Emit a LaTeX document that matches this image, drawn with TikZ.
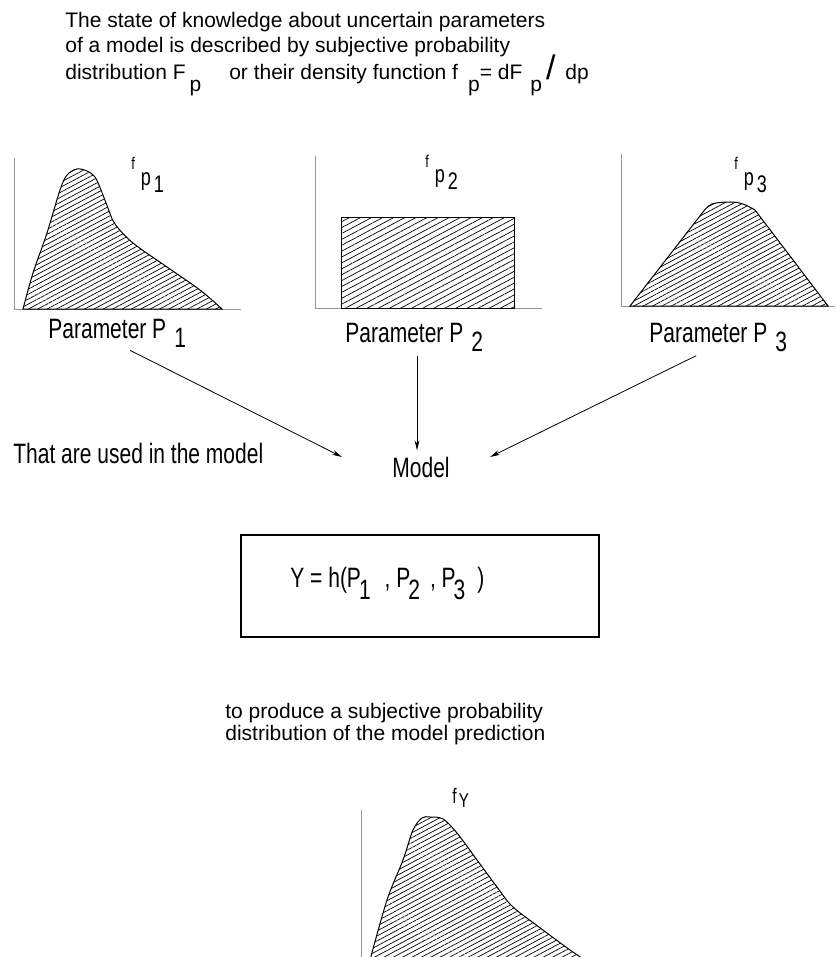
\documentclass[tikz,border=0pt]{standalone}
\usepackage{fontspec}
\setmainfont{Liberation Sans}[FakeStretch=0.75]
\newfontfamily\notefont{Liberation Sans}
\usetikzlibrary{arrows.meta,patterns.meta}

\tikzset{
  axisline/.style={draw=gray!80, line width=0.5pt},
  curveline/.style={draw=black, line width=0.5pt},
  hatch/.style={pattern={Lines[angle=28,distance=2.2pt,line width=0.35pt]}},
  lab/.style={inner sep=0pt, anchor=base west, font=\fontsize{14}{16}\selectfont},
  note/.style={inner sep=0pt, anchor=base west, font=\notefont\fontsize{10.5}{12}\selectfont},
  flow/.style={-{Stealth[length=5pt,width=2.4pt]}, line width=0.4pt},
}
\newcommand{\dropsub}[2]{\raisebox{-#1}{#2}}
\newcommand{\fplabel}[1]{{\fontsize{8.5}{8.5}\selectfont f}\hspace{3pt}%
  {\fontsize{12}{12}\selectfont\raisebox{-7.5pt}{p}\hspace{1.5pt}\raisebox{-11pt}{#1}}}

\begin{document}
\begin{tikzpicture}[x=0.5pt,y=-0.5pt]
\useasboundingbox (0,0) rectangle (836,957);
\clip (0,0) rectangle (836,957);

% heading text
\node[note] (head1) at (65,28) {The state of knowledge about uncertain parameters};
\node[note] (head2) at (65,53) {of a model is described by subjective probability};
\node[note] (head3) at (65,80) {distribution F\hspace{2pt}\dropsub{6pt}{p}\hspace{14pt}or their density function f\hspace{5pt}\dropsub{6pt}{p}\hspace{0pt}= dF\hspace{4pt}\dropsub{6pt}{p}\hspace{2pt}{\fontsize{17}{17}\selectfont /}\hspace{5pt}dp};

% first parameter
\draw[axisline] (14,158) -- (14,309) -- (241,309);
\draw[curveline, hatch] (23,309) -- plot[smooth, tension=0.55] coordinates {(23,309) (33,273) (47,233) (60,190) (67,175) (77,169) (87,171) (95,177) (101,190) (108,208) (115,224) (133,243) (167,267) (200,290) (222,309)} -- cycle;
\node[inner sep=0pt, anchor=base west] (fp1) at (131,170) {\fplabel{1}};
\node[lab] (par1) at (48,338) {Parameter P\hspace{4pt}\dropsub{4.5pt}{1}};

% second parameter
\draw[axisline] (315,156) -- (315,308) -- (542,308);
\draw[curveline, hatch, pattern={Lines[angle=28,distance=2.6pt,line width=0.35pt]}] (341,218) rectangle (514,308);
\node[inner sep=0pt, anchor=base west] (fp2) at (425,168) {\fplabel{2}};
\node[lab] (par2) at (345,342) {Parameter P\hspace{4pt}\dropsub{4.5pt}{2}};

% third parameter
\draw[axisline] (621,154) -- (621,306) -- (835,306);
\draw[curveline, hatch] (630,306) -- (703,212) -- plot[smooth, tension=0.6] coordinates {(703,212) (712,204) (730,202) (743,204) (755,210)} -- (828,306) -- cycle;
\node[inner sep=0pt, anchor=base west] (fp3) at (734,170) {\fplabel{3}};
\node[lab] (par3) at (649,342) {Parameter P\hspace{4pt}\dropsub{4.5pt}{3}};

% model
\node[lab] (used) at (13,463) {That are used in the model};
\node[lab] (model) at (392,477) {Model};
\coordinate (m2) at ([xshift=-2]model.north);
\draw[flow] ([shift={(13,3)}]par1.south) -- ([shift={(-50,-10)}]model.west);
\draw[flow, shorten <=2.5pt, shorten >=3pt] (m2 |- par2.south) -- (m2);
\draw[flow] ([shift={(-22,4)}]par3.south) -- ([shift={(40,-10)}]model.east);

\node[draw, line width=0.6pt, minimum width=179pt, minimum height=51pt, inner sep=0pt] (hbox) at (420,586) {};
\node[lab] (hfun) at (290,587) {Y = h(P\hspace{-1pt}\dropsub{6pt}{1}\hspace{7pt}, P\hspace{-1pt}\dropsub{6pt}{2}\hspace{5pt}, P\hspace{-1pt}\dropsub{6pt}{3}\hspace{6pt})};

% prediction
\node[note] (pred1) at (225,718) {to produce a subjective probability};
\node[note] (pred2) at (225,740) {distribution of the model prediction};
\draw[axisline] (361,810) -- (361,960);
\draw[curveline, hatch] (370,960) -- plot[smooth, tension=0.55] coordinates {(370,960) (387,900) (403,860) (413,830) (422,818) (430,817) (443,819) (457,833) (477,860) (497,887) (513,907) (543,930) (570,950) (585,960)} -- cycle;
\node[inner sep=0pt, anchor=base west] (fy) at (452,803) {{\fontsize{10.5}{10.5}\selectfont f}\hspace{1pt}{\fontsize{10}{10}\selectfont\raisebox{-2pt}{Y}}};
\end{tikzpicture}
\end{document}
